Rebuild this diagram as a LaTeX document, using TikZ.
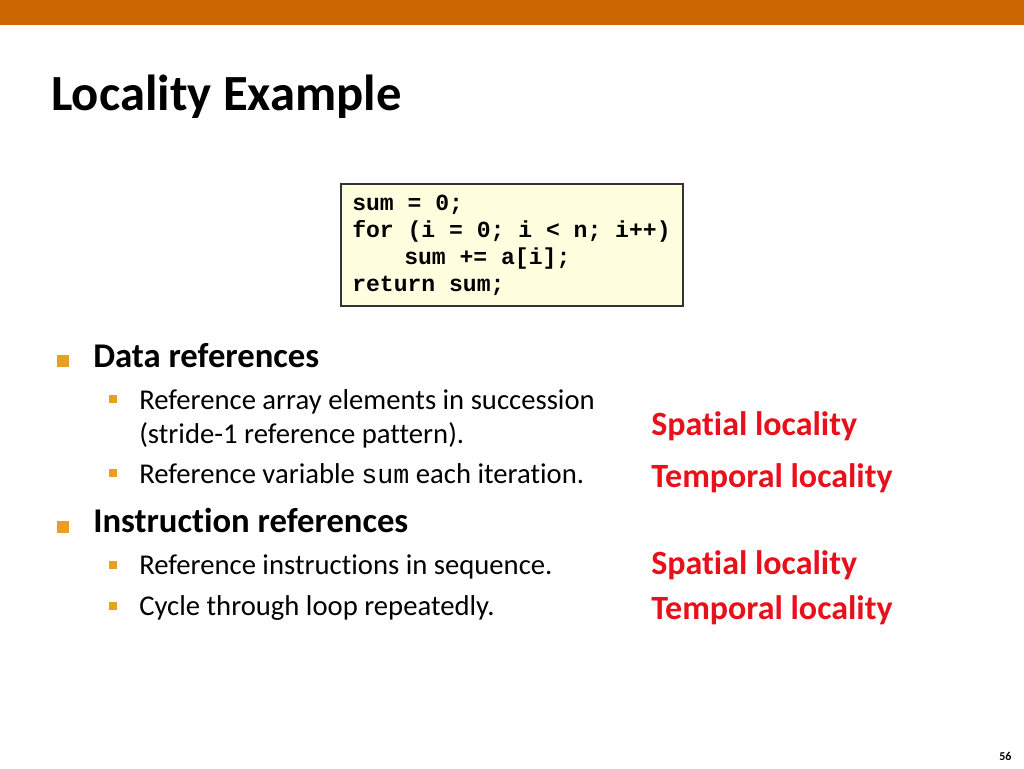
\documentclass[tikz,border=0pt]{standalone}
\usepackage{fontspec}
\setmainfont[Ligatures=NoCommon]{Carlito}
\newfontfamily\codefont{Liberation Mono}
\definecolor{barorange}{HTML}{CC6600}
\definecolor{bulorange}{HTML}{E8A020}
\definecolor{codebg}{HTML}{FFFFE0}
\definecolor{locred}{HTML}{E8101A}
\begin{document}
\begin{tikzpicture}[x=0.75pt,y=-0.75pt,
  txt/.style={anchor=base west,inner sep=0pt},
  lvl1/.style={txt,font=\fontsize{26}{30}\selectfont\bfseries},
  lvl2/.style={txt,font=\fontsize{21.5}{25}\selectfont},
  red/.style={txt,font=\fontsize{25.5}{30}\selectfont\bfseries,text=locred},
  code/.style={txt,font=\fontsize{17.3}{20}\selectfont\codefont\bfseries},
  bigbul/.style={fill=bulorange,minimum size=9pt,inner sep=0pt},
  smallbul/.style={fill=bulorange,minimum size=6pt,inner sep=0pt}]
\useasboundingbox (0,0) rectangle (1024,768);
\fill[white] (0,0) rectangle (1024,768);
\fill[barorange] (0,0) rectangle (1024,25);
\node[txt,font=\fontsize{38}{46}\selectfont\bfseries] (title) at (51,110) {Locality Example};
\node[draw=black!80,line width=1pt,fill=codebg,minimum width=342*0.75pt,minimum height=122*0.75pt,inner sep=0pt] (box) at (512,245) {};
\node[code] (c1) at (352,210) {sum = 0;};
\node[code] (c2) at (352,237) {for (i = 0; i < n; i++)};
\node[code] (c3) at (404,264) {sum += a[i];};
\node[code] (c4) at (352,291) {return sum;};
\node[bigbul] (b1) at (63,361) {};
\node[lvl1] (d) at (93,367) {Data references};
\node[smallbul] (s1) at (113,399) {};
\node[lvl2] (t1) at (139,409) {Reference array elements in succession};
\node[lvl2] (t1b) at (139,443) {(stride-1 reference pattern).};
\node[smallbul] (s2) at (113,473) {};
\node[lvl2] (t2) at (139,483) {Reference variable {\codefont\fontsize{20}{24}\selectfont sum} each iteration.};
\node[bigbul] (b2) at (63,527) {};
\node[lvl1] (i) at (93,532) {Instruction references};
\node[smallbul] (s3) at (113,565) {};
\node[lvl2] (t3) at (139,574) {Reference instructions in sequence.};
\node[smallbul] (s4) at (113,606) {};
\node[lvl2] (t4) at (139,615) {Cycle through loop repeatedly.};
\node[red] (r1) at (651,435) {Spatial locality};
\node[red] (r2) at (651,487) {Temporal locality};
\node[red] (r3) at (651,574) {Spatial locality};
\node[red] (r4) at (651,619) {Temporal locality};
\node[txt,font=\fontsize{9}{11}\selectfont\bfseries] (pg) at (999,760) {56};
\end{tikzpicture}
\end{document}
